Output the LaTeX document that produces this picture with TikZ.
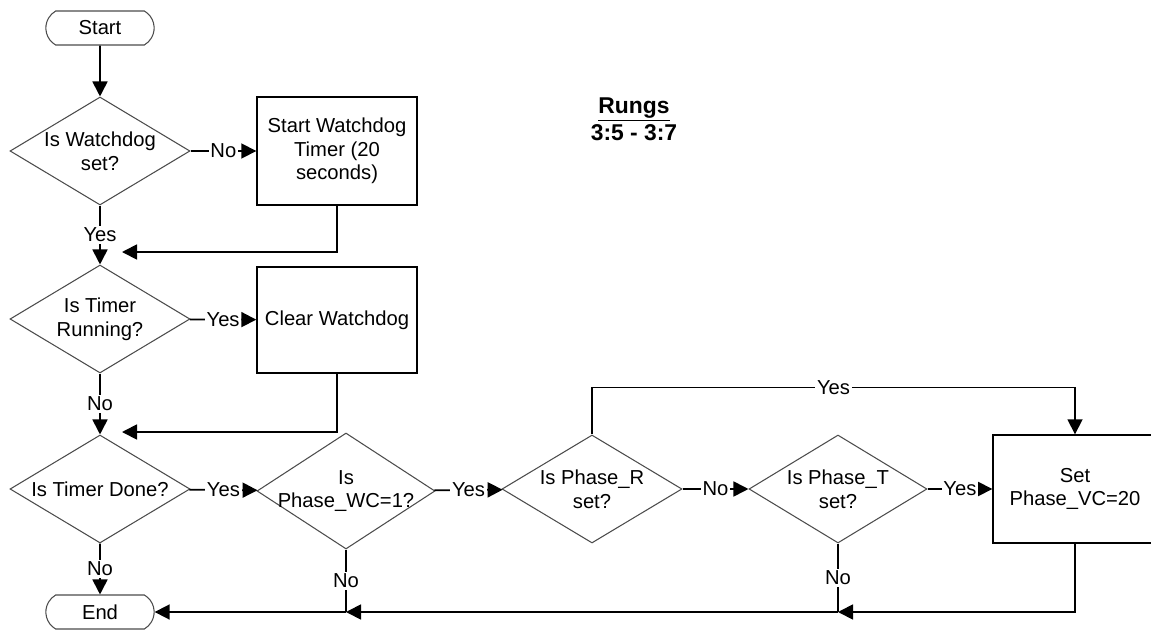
\documentclass[tikz,border=0pt]{standalone}
\usepackage{fontspec}
\setmainfont{Liberation Sans}
\usepackage{xcolor}
\usepackage{tikz}
\usetikzlibrary{shapes.geometric,shapes.misc,arrows.meta}

\begin{document}
\begin{tikzpicture}[
        font=\fontsize{11.5}{13.5}\selectfont,
        terminal/.style={rounded rectangle, rounded rectangle arc length=120, draw=black!70, line width=0.6pt, minimum width=2.4cm, minimum height=0.68cm},
        decision/.style={diamond, draw=black!70, line width=0.6pt, minimum width=3.6cm, minimum height=2.16cm, inner sep=0pt},
        process/.style={rectangle, draw, line width=0.8pt, minimum width=3.2cm, minimum height=2.16cm, align=center},
        lbl/.style={fill=white, inner sep=1pt},
        arr/.style={line width=1pt, -{Triangle[length=0.3cm,width=0.3cm]}},
        con/.style={line width=1pt}
    ]
                    \useasboundingbox (0,0) rectangle (23.02,12.6);

                    % left column
                    \node[terminal] (start) at (2.0,12.04) {Start};
                    \node[decision, label={[align=center]center:Is Watchdog\\set?}] (wdset) at (2.0,9.58) {};
                    \node[process] (wdtimer) at (6.74,9.58) {Start Watchdog\\Timer (20\\seconds)};
                    \node[decision, label={[align=center]center:Is Timer\\Running?}] (tmrrun) at (2.0,6.22) {};
                    \node[process, minimum height=2.12cm] (clearwd) at (6.74,6.2) {Clear Watchdog};
                    \node[decision, label={center:Is Timer Done?}] (tmrdone) at (2.0,2.82) {};
                    \node[terminal] (stop) at (2.0,0.36) {End};

                    % bottom row
                    \node[decision, minimum width=3.56cm, minimum height=2.32cm, label={[align=center]center:Is\\Phase\_WC=1?}] (phwc) at (6.92,2.78) {};
                    \node[decision, label={[align=center]center:Is Phase\_R\\set?}] (phR) at (11.84,2.82) {};
                    \node[decision, minimum width=3.56cm, label={[align=center]center:Is Phase\_T\\set?}] (phT) at (16.76,2.82) {};
                    \node[process, minimum width=3.28cm] (setvc) at (21.5,2.82) {Set\\Phase\_VC=20};

                    \node[font=\fontsize{13}{15.5}\selectfont\bfseries, align=center] (rungs) at (12.68,10.22) {\underline{Rungs}\\3:5 - 3:7};

                    \coordinate (j1) at (2.44,7.56);
                    \coordinate (j2) at (2.44,3.96);
                    \coordinate (c6) at (16.76,0.36);
                    \coordinate (c4) at (6.92,0.36);

                    \draw[arr] (start) -- (wdset);
                    \draw[arr] (wdset) -- node[lbl]{No} (wdtimer);
                    \draw[arr] (wdset) -- node[lbl]{Yes} (tmrrun);
                    \draw[arr] (wdtimer) |- (j1);
                    \draw[arr] (tmrrun) -- node[lbl]{Yes} (clearwd);
                    \draw[arr] (tmrrun) -- node[lbl]{No} (tmrdone);
                    \draw[arr] (clearwd) |- (j2);
                    \draw[arr] (tmrdone) -- node[lbl]{Yes} (phwc);
                    \draw[arr] (tmrdone) -- node[lbl]{No} (stop);
                    \draw[arr] (phwc) -- node[lbl]{Yes} (phR);
                    \draw[arr] (phR) -- node[lbl]{No} (phT);
                    \draw[arr] (phT) -- node[lbl]{Yes} (setvc);
                    \draw[arr] (phR.north) -- ++(0,0.94) -| node[lbl, pos=0.25]{Yes} (setvc.north);

                    % return line to End
                    \draw[con] (phT) -- node[lbl]{No} (c6);
                    \draw[arr] (setvc) |- (c6);
                    \draw[con] (phwc) -- node[lbl]{No} (c4);
                    \draw[arr] (c6) -- (c4);
                    \draw[arr] (c4) -- (stop);
\end{tikzpicture}
\end{document}
